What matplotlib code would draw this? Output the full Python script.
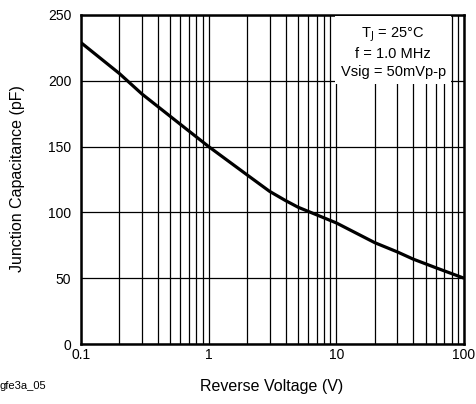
import matplotlib
matplotlib.use("Agg")
import matplotlib.pyplot as plt
from matplotlib.ticker import FixedLocator, NullFormatter, NullLocator

plt.rcParams['font.family'] = ['Liberation Sans', 'DejaVu Sans']

# reverse voltage (V) vs junction capacitance (pF)
voltage = [0.1, 0.2, 0.3, 0.5, 1, 2, 3, 4, 5, 10, 20, 30, 40, 60, 100]
capacitance = [229, 205.5, 190, 173, 150, 128.5, 116, 109, 104, 92, 77, 70, 64.5, 58, 50]

x_ticks = [0.1, 1, 10, 100]
x_ticklabels = ['0.1', '1', '10', '100']
y_ticks = [0, 50, 100, 150, 200, 250]

fig = plt.figure(figsize=(4.76, 4.04), dpi=100)
ax = fig.add_axes([81/476, 1 - 344/404, 383/476, 329/404])

ax.set_xscale('log')
ax.set_xlim(0.1, 100)
ax.set_ylim(0, 250)

# grid: every 1..9 within each decade, y every 50
minor = [m * 10.0**e for e in (-1, 0, 1) for m in range(2, 10)]
ax.xaxis.set_major_locator(FixedLocator(x_ticks))
ax.xaxis.set_minor_locator(FixedLocator(minor))
ax.xaxis.set_minor_formatter(NullFormatter())
ax.set_xticklabels(x_ticklabels)
ax.set_yticks(y_ticks)
ax.yaxis.set_minor_locator(NullLocator())
ax.grid(True, which='both', color='black', linewidth=0.9)
ax.set_axisbelow(True)
ax.tick_params(which='both', length=0, labelsize=10)
ax.tick_params(axis='x', pad=3)
ax.tick_params(axis='y', pad=7)
for s in ax.spines.values():
    s.set_linewidth(1.8)

ax.plot(voltage, capacitance, color='black', linewidth=2.3, solid_capstyle='butt')

ax.text(0.815, 0.968, 'T$_{\\rm J}$ = 25°C\nf = 1.0 MHz\nVsig = 50mVp-p',
        transform=ax.transAxes, ha='center', va='top', fontsize=10.5,
        linespacing=1.3,
        bbox=dict(facecolor='white', edgecolor='none', pad=4))

fig.text(272/476, 1 - 386/404, 'Reverse Voltage (V)', fontsize=11.5,
         ha='center', va='center')
fig.text(18/476, 1 - 178.5/404, 'Junction Capacitance (pF)', fontsize=11.5,
         ha='center', va='center', rotation=90)

fig.text(0.0, 1 - 386/404, 'gfe3a_05', fontsize=8, ha='left', va='center')

fig.savefig('out.png', dpi=100)
